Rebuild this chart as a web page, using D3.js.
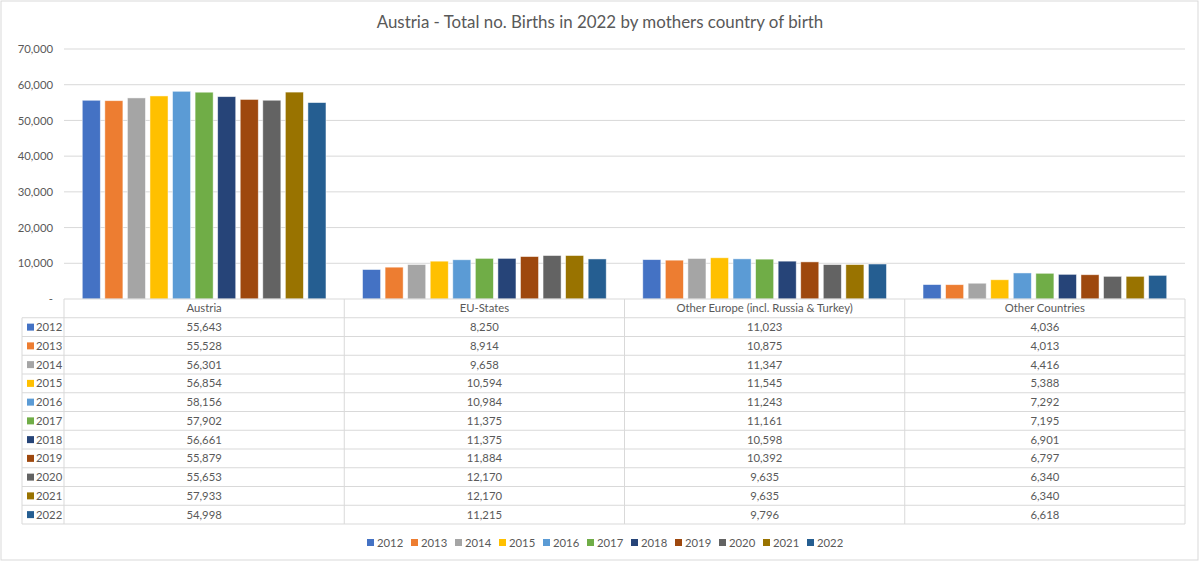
<!DOCTYPE html>
<html><head><meta charset="utf-8">
<script src="https://cdn.jsdelivr.net/npm/d3@7"></script>
<style>body{margin:0;background:#fff;} svg{display:block;font-family:Lato, "Noto Sans", sans-serif;}</style>
</head><body>
<svg id="chart" width="1200" height="562"></svg>
<script>
const title = "Austria - Total no. Births in 2022 by mothers country of birth";
const categories = ["Austria", "EU-States", "Other Europe (incl. Russia & Turkey)", "Other Countries"];
const years = ["2012","2013","2014","2015","2016","2017","2018","2019","2020","2021","2022"];
const colors = ["#4472C4","#ED7D31","#A5A5A5","#FFC000","#5B9BD5","#70AD47","#264478","#9E480E","#636363","#997300","#255E91"];
const values2012 = [55643, 8250, 11023, 4036];
const values2013 = [55528, 8914, 10875, 4013];
const values2014 = [56301, 9658, 11347, 4416];
const values2015 = [56854, 10594, 11545, 5388];
const values2016 = [58156, 10984, 11243, 7292];
const values2017 = [57902, 11375, 11161, 7195];
const values2018 = [56661, 11375, 10598, 6901];
const values2019 = [55879, 11884, 10392, 6797];
const values2020 = [55653, 12170, 9635, 6340];
const values2021 = [57933, 12170, 9635, 6340];
const values2022 = [54998, 11215, 9796, 6618];
const yTicks = [0, 10000, 20000, 30000, 40000, 50000, 60000, 70000];
const series = [values2012, values2013, values2014, values2015, values2016, values2017, values2018, values2019, values2020, values2021, values2022];

const svg = d3.select("#chart");
const txt = "#595959", grid = "#d9d9d9";
const L = 64, R = 1185, T = 49, B = 299;
const fmt = d3.format(",");
const fs = 11.3;

svg.append("rect").attr("x",1).attr("y",1).attr("width",1197).attr("height",559)
  .attr("fill","#fff").attr("stroke","#d9d9d9").attr("stroke-width",1);

svg.append("text").attr("x",600).attr("y",28).attr("text-anchor","middle")
  .attr("font-size",16.9).attr("fill",txt).text(title);

const x0 = d3.scaleBand().domain(categories).range([L, R]).paddingInner(0).paddingOuter(0);
const x1 = d3.scaleBand().domain(years).range([0, x0.bandwidth()]).paddingInner(0.2).paddingOuter(0.81);
const y = d3.scaleLinear().domain([0, 70000]).range([B, T]);

// gridlines
svg.append("g").selectAll("line").data(yTicks.filter(d=>d>0)).join("line")
  .attr("x1", L).attr("x2", R).attr("y1", d=>y(d)).attr("y2", d=>y(d))
  .attr("stroke", grid).attr("stroke-width",1);

// y axis labels
const yAxis = d3.axisLeft(y).tickValues(yTicks).tickSize(0).tickPadding(11)
  .tickFormat(d => d === 0 ? "-" : fmt(d));
const ga = svg.append("g").attr("transform",`translate(${L},0)`).call(yAxis);
ga.select(".domain").remove();
ga.selectAll("text").attr("fill",txt).attr("font-size",fs).attr("font-family","Lato, 'Noto Sans', sans-serif");

// bars
const groups = svg.append("g").selectAll("g").data(series).join("g")
  .attr("fill",(d,i)=>colors[i]);
groups.each(function(vals, si){
  d3.select(this).selectAll("rect").data(vals).join("rect")
    .attr("x",(d,ci)=>x0(categories[ci]) + x1(years[si]))
    .attr("width", x1.bandwidth())
    .attr("y", d=>y(d)).attr("height", d=>y(0)-y(d))
    .attr("stroke","#ffffff").attr("stroke-opacity",0.6).attr("stroke-width",0.8);
});

// data table
const rowH = 18.75;
const tTop = B, tBottom = B + rowH*(years.length+1);
const tbl = svg.append("g");
const lineC = "#d9d9d9";
tbl.append("line").attr("x1",L).attr("x2",R).attr("y1",tTop).attr("y2",tTop).attr("stroke",lineC);
for (let r=1; r<=years.length+1; r++){
  tbl.append("line").attr("x1",22).attr("x2",R).attr("y1",tTop+r*rowH).attr("y2",tTop+r*rowH).attr("stroke",lineC);
}
tbl.append("line").attr("x1",22).attr("x2",22).attr("y1",tTop+rowH).attr("y2",tBottom).attr("stroke",lineC);
const vx = [L].concat(categories.map(c=>x0(c)+x0.bandwidth()));
vx.forEach(v=>tbl.append("line").attr("x1",v).attr("x2",v).attr("y1",tTop).attr("y2",tBottom).attr("stroke",lineC));
tbl.selectAll("text.hdr").data(categories).join("text").attr("class","hdr")
  .attr("x",c=>x0(c)+x0.bandwidth()/2).attr("y",tTop+rowH/2+4)
  .attr("text-anchor","middle").attr("font-size",fs).attr("fill",txt).text(c=>c);
series.forEach((vals, si)=>{
  const cy = tTop + (si+1)*rowH + rowH/2;
  tbl.append("rect").attr("x",27).attr("y",cy-3.5).attr("width",7).attr("height",7).attr("fill",colors[si]);
  tbl.append("text").attr("x",36).attr("y",cy+4).attr("font-size",fs).attr("fill",txt).text(years[si]);
  tbl.selectAll(null).data(vals).join("text")
    .attr("x",(d,ci)=>x0(categories[ci])+x0.bandwidth()/2).attr("y",cy+4)
    .attr("text-anchor","middle").attr("font-size",fs).attr("fill",txt).text(d=>fmt(d));
});

// legend
const legStep = 44, legStart = 367;
const leg = svg.append("g");
years.forEach((yr,i)=>{
  const lx = legStart + i*legStep;
  leg.append("rect").attr("x",lx).attr("y",539).attr("width",7).attr("height",7).attr("fill",colors[i]);
  leg.append("text").attr("x",lx+10).attr("y",546.5).attr("font-size",fs).attr("fill",txt).text(yr);
});
</script>
</body></html>
